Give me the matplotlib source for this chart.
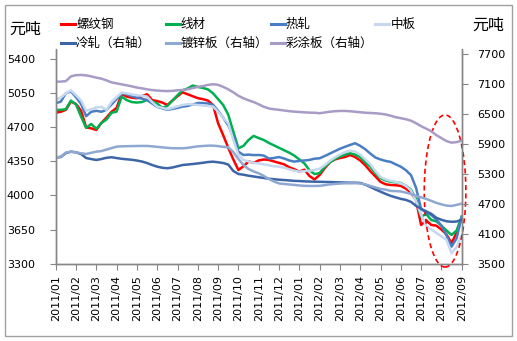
import numpy as np
import matplotlib
matplotlib.use("Agg")
import matplotlib.pyplot as plt
from matplotlib.patches import Ellipse, Rectangle
from matplotlib.lines import Line2D

plt.rcParams['font.family'] = ['DejaVu Sans', 'Noto Sans CJK SC']

# month index: 0 = 2011/01, 20 = 2012/09, one point every quarter month
months = np.arange(81) / 4
tick_labels = [f"2011/{m:02d}" for m in range(1, 13)] + [f"2012/{m:02d}" for m in range(1, 10)]

# left axis (元/吨)
rebar = [4851, 4860, 4880, 4965, 4940, 4870, 4700, 4690, 4673, 4745, 4800, 4860, 4900, 5045, 5016, 5005,
         4999, 5020, 5040, 4980, 4970, 4955, 4930, 4975, 5020, 5060, 5040, 5020, 5000, 4990, 4975, 4930,
         4742, 4620, 4490, 4370, 4262, 4300, 4350, 4335, 4360, 4370, 4365, 4350, 4335, 4320, 4290, 4270,
         4245, 4265, 4200, 4165, 4210, 4280, 4340, 4370, 4385, 4395, 4416, 4395, 4360, 4310, 4250, 4195,
         4140, 4115, 4108, 4105, 4098, 4070, 4030, 3950, 3697, 3745, 3697, 3690, 3650, 3600, 3509, 3620, 3766]
wire = [4879, 4880, 4886, 4975, 4935, 4810, 4695, 4735, 4685, 4745, 4780, 4850, 4862, 5016, 4980, 4960,
        4955, 4960, 4982, 4965, 4945, 4900, 4920, 4975, 5030, 5080, 5100, 5130, 5115, 5105, 5090, 5050,
        4990, 4930, 4830, 4656, 4485, 4510, 4570, 4612, 4590, 4570, 4540, 4515, 4490, 4465, 4440, 4410,
        4370, 4330, 4260, 4220, 4230, 4295, 4340, 4375, 4400, 4420, 4434, 4420, 4395, 4340, 4296, 4230,
        4177, 4155, 4142, 4135, 4128, 4100, 4060, 3965, 3782, 3810, 3748, 3735, 3690, 3640, 3594, 3640, 3782]
hot_rolled = [4948, 4964, 5050, 5070, 5010, 4940, 4815, 4860, 4870, 4860, 4880, 4935, 4990, 5051, 5040, 5020,
              5005, 4995, 4980, 4945, 4910, 4895, 4880, 4890, 4900, 4913, 4920, 4935, 4950, 4950, 4945, 4930,
              4870, 4800, 4720, 4605, 4450, 4416, 4420, 4415, 4416, 4410, 4380, 4385, 4395, 4380, 4360, 4348,
              4355, 4360, 4365, 4378, 4382, 4405, 4430, 4455, 4480, 4500, 4519, 4537, 4510, 4475, 4430, 4390,
              4370, 4355, 4345, 4320, 4296, 4260, 4210, 4080, 3860, 3825, 3800, 3755, 3690, 3590, 3474, 3560, 3782]
plate = [4982, 5005, 5050, 5080, 5030, 4975, 4870, 4885, 4905, 4910, 4880, 4960, 5010, 5057, 5050, 5038,
         5030, 5025, 5016, 4960, 4913, 4900, 4886, 4900, 4915, 4930, 4938, 4935, 4930, 4925, 4920, 4913,
         4860, 4800, 4740, 4571, 4420, 4365, 4350, 4335, 4330, 4320, 4310, 4300, 4296, 4285, 4270, 4255,
         4245, 4250, 4255, 4262, 4275, 4310, 4355, 4390, 4420, 4445, 4460, 4450, 4420, 4370, 4320, 4250,
         4190, 4165, 4150, 4140, 4125, 4100, 4050, 3940, 3800, 3690, 3650, 3615, 3580, 3545, 3406, 3470, 3594]

# right axis (元/吨)
cold_rolled = [5628, 5640, 5720, 5748, 5735, 5700, 5620, 5600, 5581, 5600, 5625, 5636, 5620, 5605, 5595, 5585,
               5570, 5550, 5520, 5480, 5447, 5425, 5415, 5430, 5455, 5480, 5490, 5500, 5512, 5525, 5540, 5547,
               5535, 5520, 5490, 5360, 5300, 5285, 5265, 5250, 5234, 5220, 5205, 5195, 5185, 5178, 5170, 5162,
               5158, 5152, 5148, 5145, 5143, 5140, 5138, 5135, 5132, 5128, 5125, 5125, 5120, 5085, 5040, 4990,
               4945, 4900, 4860, 4830, 4800, 4780, 4740, 4660, 4600, 4550, 4500, 4420, 4380, 4350, 4340, 4345, 4380]
galvanized = [5628, 5650, 5730, 5748, 5735, 5715, 5702, 5725, 5748, 5760, 5790, 5820, 5849, 5855, 5858, 5860,
              5862, 5863, 5863, 5855, 5845, 5835, 5825, 5818, 5816, 5816, 5825, 5840, 5855, 5862, 5869, 5869,
              5860, 5845, 5836, 5740, 5600, 5480, 5400, 5350, 5314, 5260, 5200, 5150, 5110, 5099, 5090, 5080,
              5070, 5062, 5059, 5059, 5062, 5075, 5090, 5100, 5108, 5113, 5113, 5115, 5110, 5090, 5060, 5030,
              5000, 4985, 4960, 4955, 4950, 4925, 4900, 4860, 4830, 4800, 4760, 4720, 4690, 4665, 4657, 4680, 4705]
color_coated = [7154, 7155, 7165, 7260, 7285, 7289, 7280, 7260, 7235, 7215, 7180, 7140, 7120, 7100, 7080, 7060,
                7035, 7020, 7000, 6985, 6975, 6968, 6965, 6970, 6980, 6988, 7000, 7025, 7050, 7065, 7090, 7102,
                7090, 7050, 7000, 6940, 6870, 6820, 6780, 6745, 6700, 6650, 6615, 6600, 6588, 6575, 6562, 6552,
                6545, 6538, 6532, 6530, 6520, 6535, 6550, 6560, 6566, 6566, 6560, 6550, 6540, 6530, 6525, 6520,
                6510, 6495, 6470, 6440, 6420, 6400, 6370, 6320, 6260, 6210, 6160, 6080, 6020, 5960, 5929, 5940, 5969]

left_series = [("螺纹钢", rebar, "#FF0000"), ("线材", wire, "#00B050"),
               ("热轧", hot_rolled, "#4A7EC4"), ("中板", plate, "#C5D8EF")]
right_series = [("冷轧（右轴）", cold_rolled, "#3C66A8"), ("镀锌板（右轴）", galvanized, "#8FA8D2"),
                ("彩涂板（右轴）", color_coated, "#A89BC6")]

W, H = 517, 341
fig = plt.figure(figsize=(W / 100, H / 100), dpi=100)
ax = fig.add_axes([55.7 / W, 1 - 263.6 / H, (461.7 - 55.7) / W, (263.6 - 49.5) / H])
ax2 = ax.twinx()

for name, vals, col in left_series:
    ax.plot(months, vals, color=col, lw=1.8, solid_joinstyle="round")
for name, vals, col in right_series:
    ax2.plot(months, vals, color=col, lw=1.8, solid_joinstyle="round")

ax.set_xlim(0, 20)
ax.set_ylim(3300, 5500)
ax.set_yticks(np.arange(3300, 5401, 350))
ax2.set_ylim(3500, 7800)
ax2.set_yticks(np.arange(3500, 7701, 600))
ax.set_xticks(np.arange(21))
ax.set_xticklabels(tick_labels, rotation=90)

axis_grey = "#868686"
for a in (ax, ax2):
    for s in a.spines.values():
        s.set_color(axis_grey)
        s.set_linewidth(1.0)
    a.spines["top"].set_visible(False)
ax.tick_params(axis="x", direction="out", length=4, color=axis_grey, labelsize=8, pad=4)
ax.tick_params(axis="y", direction="out", length=4, color=axis_grey, labelsize=8, pad=11)
ax2.tick_params(axis="y", direction="out", length=4, color=axis_grey, labelsize=8, pad=7)

# red dashed ellipse highlighting the latest drop
ax.add_patch(Ellipse((19.18, 4046), 2.05, 1563, fill=False, ec="#FF0000", ls=(0, (3, 2)),
                     lw=1.2, clip_on=False, zorder=10))

cjk = ['Noto Sans CJK SC', 'DejaVu Sans']
fig.text(9 / W, 1 - 29 / H, "元吨", family=cjk, fontsize=11.5, va="center", ha="left")
fig.text(472 / W, 1 - 25 / H, "元吨", family=cjk, fontsize=11.5, va="center", ha="left")

# legend, two rows
for i, (name, vals, col) in enumerate(left_series + right_series):
    row, c = divmod(i, 4)
    x0 = 61 + c * 104.8
    y0 = 1 - (24 + row * 19.3) / H
    fig.add_artist(Line2D([x0 / W, (x0 + 14) / W], [y0, y0], color=col, lw=2.2,
                          transform=fig.transFigure))
    fig.text((x0 + 15) / W, y0, name, family=cjk, fontsize=9, va="center", ha="left")

fig.add_artist(Rectangle((5 / W, 5 / H), 507 / W, 331 / H, fill=False, ec="#A0A0A0", lw=1.0,
                         transform=fig.transFigure))

fig.savefig("out.png", dpi=100)
